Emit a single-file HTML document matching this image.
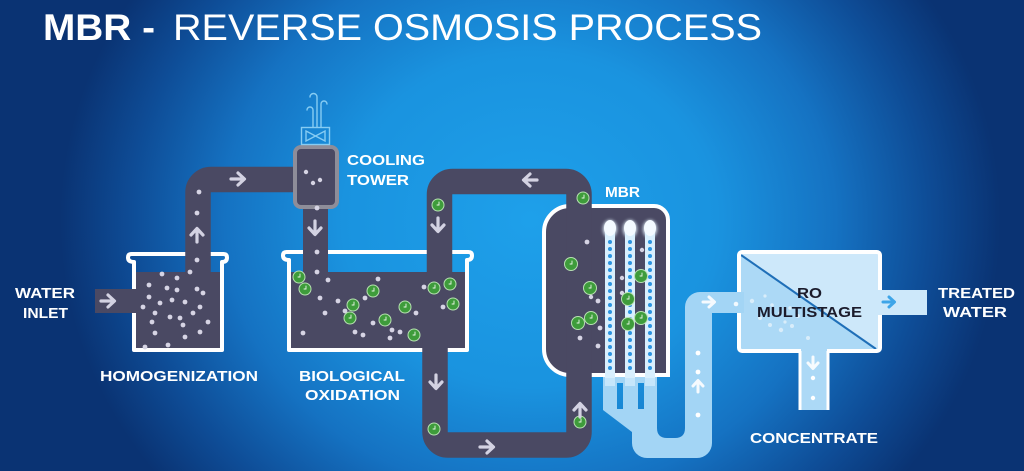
<!DOCTYPE html>
<html><head><meta charset="utf-8"><style>
html,body{margin:0;padding:0;width:1024px;height:471px;overflow:hidden;background:#0a3373;}
svg{display:block;}
text{font-family:"Liberation Sans",Arial,sans-serif;}
</style></head><body>
<svg width="1024" height="471" viewBox="0 0 1024 471" xmlns="http://www.w3.org/2000/svg">
<defs>
<radialGradient id="bg" cx="0" cy="0" r="1" gradientUnits="userSpaceOnUse" gradientTransform="translate(530 220) scale(470 420)">
<stop offset="0" stop-color="#1ea0ea"/>
<stop offset="0.4" stop-color="#1a93df"/>
<stop offset="0.65" stop-color="#1572c2"/>
<stop offset="0.85" stop-color="#0e4c96"/>
<stop offset="1" stop-color="#0a3373"/>
</radialGradient>
<filter id="glow" x="-50%" y="-50%" width="200%" height="200%"><feGaussianBlur stdDeviation="1.6"/></filter>
<clipPath id="roclip"><rect x="739" y="252" width="141" height="99"/></clipPath>
</defs>
<rect width="1024" height="471" fill="url(#bg)"/>

<!-- Title -->
<text x="43" y="40" font-size="37" font-weight="bold" fill="#fff" textLength="112" lengthAdjust="spacingAndGlyphs">MBR -</text>
<text x="173" y="40" font-size="37" fill="#fff" textLength="589" lengthAdjust="spacingAndGlyphs">REVERSE OSMOSIS PROCESS</text>

<!-- Homogenization tank -->
<path d="M134 350 V262 Q128 262 128 257.5 Q128 254 131.5 254 H223.5 Q227 254 227 257.5 Q227 262 222 262 V350 Z" fill="none" stroke="#fff" stroke-width="4" stroke-linejoin="round"/>
<rect x="136" y="272" width="84" height="76" fill="#4a4963"/>

<!-- Bio oxidation tank -->
<path d="M289 350 V260 Q283 260 283 255.5 Q283 252 286.5 252 H468.5 Q472 252 472 255.5 Q472 260 467 260 V350 Z" fill="none" stroke="#fff" stroke-width="4" stroke-linejoin="round"/>
<rect x="291" y="272" width="174" height="76" fill="#4a4963"/>

<!-- MBR vessel -->
<path d="M570 206 H654 A14 14 0 0 1 668 220 V375 H570 A26 26 0 0 1 544 349 V232 A26 26 0 0 1 570 206 Z" fill="#4a4963" stroke="#fff" stroke-width="4"/>

<!-- Dark pipes -->
<rect x="95" y="289" width="43" height="24" fill="#4a4963"/>
<path d="M198 276 V192.5 A13 13 0 0 1 211 179.5 H300" fill="none" stroke="#4a4963" stroke-width="25.5"/>
<path d="M315.5 205 V276" fill="none" stroke="#4a4963" stroke-width="25"/>
<path d="M439.5 276 V194.5 A13 13 0 0 1 452.5 181.5 H566 A13 13 0 0 1 579 194.5 V432 A13 13 0 0 1 566 445 H448 A13 13 0 0 1 435 432 V340" fill="none" stroke="#4a4963" stroke-width="25.5"/>

<!-- Cooling tower -->
<rect x="295" y="147" width="42" height="60" rx="6" fill="#4a4963" stroke="#8e8d99" stroke-width="4"/>
<g fill="none" stroke="#86ccf3" stroke-width="1.4" stroke-linecap="round">
<rect x="301.5" y="127.5" width="28" height="17"/>
<path d="M306 131 L325 141 V131 L306 141 Z"/>
<path d="M313 127 V110 A3 3 0 0 0 307 110"/>
<path d="M317 127 V97 A3.5 3.5 0 0 0 310 97"/>
<path d="M321 127 V104 A3 3 0 0 1 327 104"/>
</g>

<!-- Light blue outlet pipe from MBR -->
<path fill-rule="evenodd" fill="#a3d5f5" d="M603 377 H657 V428 Q657 438 667 438 H675 Q685 438 685 428 V307 A15 15 0 0 1 700 292 H742 V313 H712 V443 A15 15 0 0 1 697 458 H647 A15 15 0 0 1 632 443 V432 L603 410 Z M617 383 h6 v26 h-6 Z M638 383 h6 v26 h-6 Z"/>

<!-- MBR membrane tubes -->
<g>
<g filter="url(#glow)" fill="#e8f6ff" opacity="0.9">
<ellipse cx="610" cy="229" rx="7" ry="9"/><ellipse cx="630" cy="229" rx="7" ry="9"/><ellipse cx="650" cy="229" rx="7" ry="9"/>
</g>
<rect x="605" y="228" width="10" height="150" fill="#d8effd"/>
<rect x="625" y="228" width="10" height="150" fill="#d8effd"/>
<rect x="645" y="228" width="10" height="150" fill="#d8effd"/>
<ellipse cx="610" cy="228" rx="6" ry="8" fill="#f4faff"/><ellipse cx="630" cy="228" rx="6" ry="8" fill="#f4faff"/><ellipse cx="650" cy="228" rx="6" ry="8" fill="#f4faff"/>
<g fill="#2a94e0">
<circle cx="610" cy="242" r="2"/><circle cx="610" cy="249" r="2"/><circle cx="610" cy="256" r="2"/><circle cx="610" cy="263" r="2"/><circle cx="610" cy="270" r="2"/><circle cx="610" cy="277" r="2"/><circle cx="610" cy="284" r="2"/><circle cx="610" cy="291" r="2"/><circle cx="610" cy="298" r="2"/><circle cx="610" cy="305" r="2"/><circle cx="610" cy="312" r="2"/><circle cx="610" cy="319" r="2"/><circle cx="610" cy="326" r="2"/><circle cx="610" cy="333" r="2"/><circle cx="610" cy="340" r="2"/><circle cx="610" cy="347" r="2"/><circle cx="610" cy="354" r="2"/><circle cx="610" cy="361" r="2"/><circle cx="610" cy="368" r="2"/>
<circle cx="630" cy="242" r="2"/><circle cx="630" cy="249" r="2"/><circle cx="630" cy="256" r="2"/><circle cx="630" cy="263" r="2"/><circle cx="630" cy="270" r="2"/><circle cx="630" cy="277" r="2"/><circle cx="630" cy="284" r="2"/><circle cx="630" cy="291" r="2"/><circle cx="630" cy="298" r="2"/><circle cx="630" cy="305" r="2"/><circle cx="630" cy="312" r="2"/><circle cx="630" cy="319" r="2"/><circle cx="630" cy="326" r="2"/><circle cx="630" cy="333" r="2"/><circle cx="630" cy="340" r="2"/><circle cx="630" cy="347" r="2"/><circle cx="630" cy="354" r="2"/><circle cx="630" cy="361" r="2"/><circle cx="630" cy="368" r="2"/>
<circle cx="650" cy="242" r="2"/><circle cx="650" cy="249" r="2"/><circle cx="650" cy="256" r="2"/><circle cx="650" cy="263" r="2"/><circle cx="650" cy="270" r="2"/><circle cx="650" cy="277" r="2"/><circle cx="650" cy="284" r="2"/><circle cx="650" cy="291" r="2"/><circle cx="650" cy="298" r="2"/><circle cx="650" cy="305" r="2"/><circle cx="650" cy="312" r="2"/><circle cx="650" cy="319" r="2"/><circle cx="650" cy="326" r="2"/><circle cx="650" cy="333" r="2"/><circle cx="650" cy="340" r="2"/><circle cx="650" cy="347" r="2"/><circle cx="650" cy="354" r="2"/><circle cx="650" cy="361" r="2"/><circle cx="650" cy="368" r="2"/>
</g>
<rect x="605" y="378" width="10" height="8" fill="#c5e6fb"/>
<rect x="625" y="378" width="10" height="8" fill="#c5e6fb"/>
<rect x="645" y="378" width="10" height="8" fill="#c5e6fb"/>
</g>

<!-- RO multistage box -->
<g clip-path="url(#roclip)">
<rect x="739" y="252" width="141" height="99" fill="#cde8fa"/>
<polygon points="739,252 739,351 880,351 741,254" fill="#acd9f6"/>
<polygon points="739,252 741,255 876,349 739,351" fill="#acd9f6"/>
</g>
<line x1="741" y1="255" x2="876" y2="349" stroke="#1f6fb8" stroke-width="2"/>
<rect x="739" y="252" width="141" height="99" rx="3" fill="none" stroke="#fff" stroke-width="4"/>
<rect x="730" y="292" width="14" height="21" fill="#a3d5f5"/>
<rect x="877" y="290" width="50" height="25" fill="#cde8fa"/>
<rect x="801" y="348" width="26" height="62" fill="#acd9f6"/>
<line x1="800" y1="351" x2="800" y2="410" stroke="#fff" stroke-width="3"/>
<line x1="828" y1="351" x2="828" y2="410" stroke="#fff" stroke-width="3"/>
<!-- swirl dots -->
<g fill="#fff" opacity="0.55">
<circle cx="752" cy="301" r="2.2"/><circle cx="760" cy="318" r="2"/><circle cx="770" cy="325" r="2"/><circle cx="781" cy="330" r="2.2"/><circle cx="792" cy="326" r="2"/><circle cx="798" cy="316" r="2"/><circle cx="790" cy="308" r="1.8"/><circle cx="780" cy="313" r="1.8"/><circle cx="785" cy="322" r="1.6"/><circle cx="772" cy="305" r="1.8"/><circle cx="808" cy="338" r="2"/><circle cx="765" cy="296" r="1.6"/>
</g>
<circle cx="736" cy="304" r="2.3" fill="#fff" opacity="0.85"/>

<!-- White particles -->
<g fill="#d6d4e4">
<circle cx="162" cy="274" r="2.4"/><circle cx="177" cy="278" r="2.4"/><circle cx="190" cy="272" r="2.4"/><circle cx="149" cy="285" r="2.4"/><circle cx="167" cy="288" r="2.4"/><circle cx="177" cy="290" r="2.4"/><circle cx="197" cy="289" r="2.4"/><circle cx="203" cy="293" r="2.4"/><circle cx="149" cy="297" r="2.4"/><circle cx="160" cy="303" r="2.4"/><circle cx="172" cy="300" r="2.4"/><circle cx="185" cy="302" r="2.4"/><circle cx="200" cy="307" r="2.4"/><circle cx="143" cy="307" r="2.4"/><circle cx="155" cy="313" r="2.4"/><circle cx="170" cy="317" r="2.4"/><circle cx="180" cy="318" r="2.4"/><circle cx="193" cy="313" r="2.4"/><circle cx="208" cy="322" r="2.4"/><circle cx="152" cy="322" r="2.4"/><circle cx="183" cy="325" r="2.4"/><circle cx="200" cy="332" r="2.4"/><circle cx="155" cy="333" r="2.4"/><circle cx="185" cy="337" r="2.4"/><circle cx="168" cy="345" r="2.4"/><circle cx="145" cy="347" r="2.4"/><circle cx="197" cy="260" r="2.4"/><circle cx="197" cy="213" r="2.4"/><circle cx="199" cy="192" r="2.4"/>
<circle cx="317" cy="208" r="2.4"/><circle cx="317" cy="252" r="2.4"/><circle cx="317" cy="272" r="2.4"/><circle cx="328" cy="280" r="2.4"/><circle cx="378" cy="279" r="2.4"/><circle cx="320" cy="298" r="2.4"/><circle cx="338" cy="301" r="2.4"/><circle cx="345" cy="311" r="2.4"/><circle cx="325" cy="313" r="2.4"/><circle cx="365" cy="298" r="2.4"/><circle cx="303" cy="333" r="2.4"/><circle cx="355" cy="332" r="2.4"/><circle cx="363" cy="335" r="2.4"/><circle cx="373" cy="323" r="2.4"/><circle cx="392" cy="330" r="2.4"/><circle cx="400" cy="332" r="2.4"/><circle cx="390" cy="338" r="2.4"/><circle cx="416" cy="313" r="2.4"/><circle cx="424" cy="287" r="2.4"/><circle cx="443" cy="307" r="2.4"/>
<circle cx="306" cy="172" r="2.2"/><circle cx="313" cy="183" r="2.2"/><circle cx="320" cy="180" r="2.2"/>
<circle cx="587" cy="242" r="2.4"/><circle cx="642" cy="250" r="2.2"/><circle cx="598" cy="301" r="2.4"/><circle cx="600" cy="328" r="2.4"/><circle cx="580" cy="338" r="2.4"/><circle cx="598" cy="346" r="2.4"/><circle cx="622" cy="278" r="2.2"/><circle cx="622" cy="293" r="2.2"/><circle cx="591" cy="297" r="2.2"/>
</g>
<g fill="#fff">
<circle cx="698" cy="353" r="2.4"/><circle cx="698" cy="372" r="2.4"/><circle cx="698" cy="415" r="2.4"/>
<circle cx="813" cy="378" r="2.2"/><circle cx="813" cy="398" r="2.2"/>
</g>

<!-- Green microbes -->
<g stroke="#b7e0b2" stroke-width="1" fill="#3e9c3b">
<circle cx="299" cy="277" r="6"/><circle cx="305" cy="289" r="6"/><circle cx="373" cy="291" r="6"/><circle cx="353" cy="305" r="6"/><circle cx="350" cy="318" r="6"/><circle cx="385" cy="320" r="6"/><circle cx="405" cy="307" r="6"/><circle cx="414" cy="335" r="6"/><circle cx="434" cy="288" r="6"/><circle cx="450" cy="284" r="6"/><circle cx="453" cy="304" r="6"/><circle cx="438" cy="205" r="6"/><circle cx="583" cy="198" r="6"/><circle cx="571" cy="264" r="6.5"/><circle cx="590" cy="288" r="6.5"/><circle cx="578" cy="323" r="6.5"/><circle cx="591" cy="318" r="6.5"/><circle cx="641" cy="276" r="6.5"/><circle cx="628" cy="299" r="6.5"/><circle cx="641" cy="318" r="6.5"/><circle cx="628" cy="324" r="6.5"/><circle cx="434" cy="429" r="6"/><circle cx="580" cy="422" r="6"/>
</g>
<g stroke="#e8f5e6" stroke-width="0.9" fill="none" stroke-linecap="round">
<path d="M300 274v3h-2M306 286v3h-2M374 288v3h-2M354 302v3h-2M351 315v3h-2M386 317v3h-2M406 304v3h-2M415 332v3h-2M435 285v3h-2M451 281v3h-2M454 301v3h-2M439 202v3h-2M584 195v3h-2M572 261v3h-2M591 285v3h-2M579 320v3h-2M592 315v3h-2M642 273v3h-2M629 296v3h-2M642 315v3h-2M629 321v3h-2M435 426v3h-2M581 419v3h-2"/>
</g>

<!-- Arrows in dark pipes -->
<g fill="none" stroke="#d3d2e2" stroke-width="3.2" stroke-linecap="round" stroke-linejoin="round">
<path transform="translate(108 301)" d="M-7 0H6M0-6L6.5 0L0 6"/>
<path transform="translate(197 235) rotate(-90)" d="M-7 0H6M0-6L6.5 0L0 6"/>
<path transform="translate(238 179)" d="M-7 0H6M0-6L6.5 0L0 6"/>
<path transform="translate(315 228) rotate(90)" d="M-7 0H6M0-6L6.5 0L0 6"/>
<path transform="translate(530 180) rotate(180)" d="M-7 0H6M0-6L6.5 0L0 6"/>
<path transform="translate(438 225) rotate(90)" d="M-7 0H6M0-6L6.5 0L0 6"/>
<path transform="translate(436 382) rotate(90)" d="M-7 0H6M0-6L6.5 0L0 6"/>
<path transform="translate(487 447)" d="M-7 0H6M0-6L6.5 0L0 6"/>
<path transform="translate(580 410) rotate(-90)" d="M-7 0H6M0-6L6.5 0L0 6"/>
</g>
<g fill="none" stroke="#fff" stroke-width="3" stroke-linecap="round" stroke-linejoin="round" opacity="0.9">
<path transform="translate(709 302)" d="M-6 0H5M0-5L5.5 0L0 5"/>
<path transform="translate(698 386) rotate(-90)" d="M-6 0H5M0-5L5.5 0L0 5"/>
<path transform="translate(813 363) rotate(90)" d="M-6 0H5M0-5L5.5 0L0 5"/>
</g>
<path transform="translate(889 302)" d="M-6 0H5M0-5L5.5 0L0 5" fill="none" stroke="#3ea5e8" stroke-width="3" stroke-linecap="round" stroke-linejoin="round"/>

<!-- Labels -->
<g fill="#fff" font-weight="bold" font-size="15">
<text x="15" y="298" textLength="60" lengthAdjust="spacingAndGlyphs">WATER</text>
<text x="23" y="318" textLength="45" lengthAdjust="spacingAndGlyphs">INLET</text>
<text x="100" y="381" textLength="158" lengthAdjust="spacingAndGlyphs">HOMOGENIZATION</text>
<text x="299" y="381" textLength="106" lengthAdjust="spacingAndGlyphs">BIOLOGICAL</text>
<text x="305" y="400" textLength="95" lengthAdjust="spacingAndGlyphs">OXIDATION</text>
<text x="347" y="165" textLength="78" lengthAdjust="spacingAndGlyphs">COOLING</text>
<text x="347" y="185" textLength="62" lengthAdjust="spacingAndGlyphs">TOWER</text>
<text x="605" y="197" textLength="35" lengthAdjust="spacingAndGlyphs">MBR</text>
<text x="938" y="298" textLength="77" lengthAdjust="spacingAndGlyphs">TREATED</text>
<text x="943" y="317" textLength="64" lengthAdjust="spacingAndGlyphs">WATER</text>
<text x="750" y="443" textLength="128" lengthAdjust="spacingAndGlyphs">CONCENTRATE</text>
</g>
<g fill="#1b1b2b" font-weight="bold" font-size="15">
<text x="797" y="298" textLength="25" lengthAdjust="spacingAndGlyphs">RO</text>
<text x="757" y="317" textLength="105" lengthAdjust="spacingAndGlyphs">MULTISTAGE</text>
</g>
</svg>
</body></html>
